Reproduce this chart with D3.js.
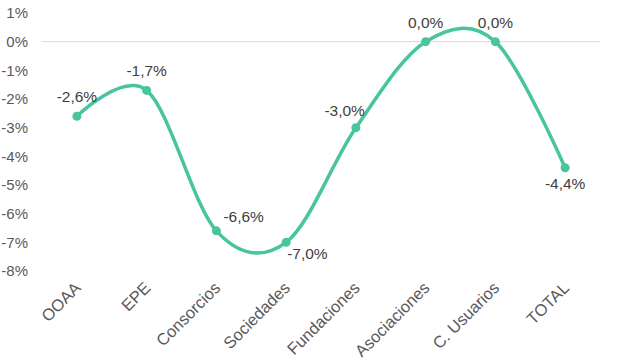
<!DOCTYPE html>
<html>
<head>
<meta charset="utf-8">
<script src="https://cdn.jsdelivr.net/npm/d3@7"></script>
<style>
  body { margin: 0; background: #fff; }
  text { font-family: "Liberation Sans", Arial, sans-serif; }
</style>
</head>
<body>
<svg id="chart" width="617" height="362"></svg>
<script>
// data
const categories = ["OOAA", "EPE", "Consorcios", "Sociedades", "Fundaciones", "Asociaciones", "C. Usuarios", "TOTAL"];
const values = [-2.6, -1.7, -6.6, -7.0, -3.0, 0.0, 0.0, -4.4];
const yTicks = [1, 0, -1, -2, -3, -4, -5, -6, -7, -8];
// where each data label sits relative to its point
const labelPlacement = ["above", "above", "upright", "downright", "upleft", "above", "above", "below"];

function createChart(chartId) {
    const svg = d3.select(chartId);
    svg.selectAll('*').remove();

    const margin = { top: 13, right: 17, bottom: 91, left: 42 },
          width = +svg.attr('width') - margin.left - margin.right,
          height = +svg.attr('height') - margin.top - margin.bottom;

    const g = svg.append('g').attr('transform', `translate(${margin.left},${margin.top})`);

    const x = d3.scaleBand().domain(categories).range([0, width]);
    const y = d3.scaleLinear().domain([-8, 1]).range([height, 0]);
    const fmt = v => d3.format(".1f")(v).replace(".", ",").replace("−", "-") + "%";

    // gridline at zero only
    g.append('line')
        .attr('x1', 0).attr('x2', width)
        .attr('y1', y(0)).attr('y2', y(0))
        .attr('stroke', '#d9d9d9').attr('stroke-width', 1);

    // y axis labels
    const yAxis = g.append('g').call(d3.axisLeft(y).tickValues(yTicks).tickSize(0).tickPadding(14)
        .tickFormat(d => d + "%"));
    yAxis.select('.domain').remove();
    yAxis.selectAll('text').style('font-size', '15px').style('fill', '#595959')
        .style('font-family', '"Liberation Sans", Arial, sans-serif');

    // x axis labels, rotated
    g.append('g').selectAll('text')
        .data(categories)
        .enter().append('text')
        .attr('transform', d => `translate(${x(d) + x.bandwidth() / 2 + 5},${height + 18}) rotate(-45)`)
        .style('text-anchor', 'end')
        .style('font-size', '16.5px')
        .style('fill', '#595959')
        .text(d => d);

    const color = '#48c49e';
    const pts = categories.map((c, i) => ({ c: c, v: values[i], pos: labelPlacement[i] }));

    const line = d3.line()
        .x(d => x(d.c) + x.bandwidth() / 2)
        .y(d => y(d.v))
        .curve(d3.curveCardinal.tension(0));

    g.append('path').datum(pts)
        .attr('fill', 'none')
        .attr('stroke', color)
        .attr('stroke-width', 3.5)
        .attr('stroke-linecap', 'round')
        .attr('d', line);

    g.selectAll('.dot')
        .data(pts)
        .enter().append('circle')
        .attr('class', 'dot')
        .attr('cx', d => x(d.c) + x.bandwidth() / 2)
        .attr('cy', d => y(d.v))
        .attr('r', 4.5)
        .attr('fill', color);

    // data labels
    const offsets = {
        above: [0, -14, 'middle'],
        below: [0, 21, 'middle'],
        upright: [7, -9, 'start'],
        downright: [1, 17, 'start'],
        upleft: [9, -12, 'end']
    };
    g.selectAll('.lbl')
        .data(pts)
        .enter().append('text')
        .attr('class', 'lbl')
        .attr('x', d => x(d.c) + x.bandwidth() / 2 + offsets[d.pos][0])
        .attr('y', d => y(d.v) + offsets[d.pos][1])
        .style('text-anchor', d => offsets[d.pos][2])
        .style('font-size', '15.5px')
        .style('fill', '#404040')
        .text(d => fmt(d.v));
}

createChart('#chart');
</script>
</body>
</html>
